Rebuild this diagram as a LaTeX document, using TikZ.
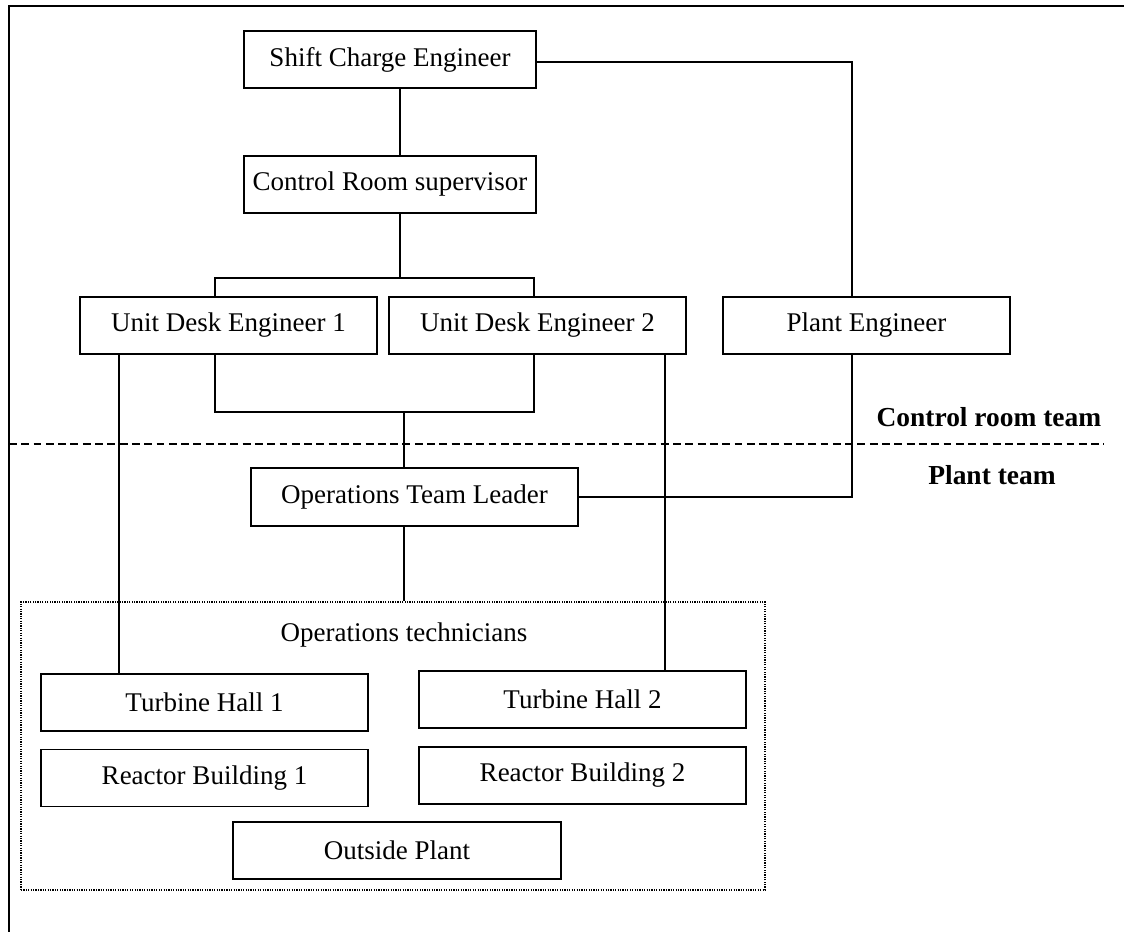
\documentclass[tikz,border=0pt]{standalone}
\usepackage{fontspec}
\setmainfont{Liberation Serif}

\begin{document}
\begin{tikzpicture}[x=0.016cm, y=-0.016cm,
    box/.style={draw, line width=0.8pt, minimum height=57*0.016cm, inner sep=2pt, font=\fontsize{12.3}{14}\selectfont},
    boxw/.style={minimum width=#1*0.016cm},
    group/.style={draw, line width=0.9pt, dash pattern=on 0.55pt off 0.55pt, inner sep=0pt},
    link/.style={line width=0.7pt},
    teamlabel/.style={font=\fontsize{12.5}{14}\selectfont\bfseries}]
    \useasboundingbox (0,0) rectangle (1124,932);

    % Page frame
    \draw[line width=0.9pt] (1124,6) -- (9,6) -- (9,932);

    % === Control room team ===
    \node[box, boxw=292] (sce) at (390,59.5) {Shift Charge Engineer};
    \node[box, boxw=292] (crs) at (390,184.5) {Control Room supervisor};
    \node[box, boxw=297] (ude1) at (228.5,325.5) {Unit Desk Engineer 1};
    \node[box, boxw=297] (ude2) at (537.5,325.5) {Unit Desk Engineer 2};
    \node[box, boxw=287] (pe) at (866.5,325.5) {Plant Engineer};

    % Team labels and divider
    \node[teamlabel, anchor=east] (crteam) at (1109,417) {Control room team};
    \node[teamlabel] (plteam) at (992,475) {Plant team};
    \draw[line width=0.7pt, dash pattern=on 3.6pt off 2pt] (9,444) -- (1104,444);

    % === Plant team ===
    \node[box, boxw=327, minimum height=58*0.016cm] (otl) at (414.5,497) {Operations Team Leader};
    \node[group, minimum width=744*0.016cm, minimum height=288*0.016cm] (techs) at (393,746) {};
    \node[font=\fontsize{12.3}{14}\selectfont] (techlabel) at (404,635) {Operations technicians};
    \node[box, boxw=327] (th1) at (204.5,702.5) {Turbine Hall 1};
    \node[box, boxw=327] (th2) at (582.5,699.5) {Turbine Hall 2};
    \node[box, boxw=327] (rb1) at (204.5,778) {Reactor Building 1};
    \node[box, boxw=327] (rb2) at (582.5,775.5) {Reactor Building 2};
    \node[box, boxw=328] (op) at (397,850.5) {Outside Plant};

    % Junction points
    \coordinate (spine) at (400,278);
    \coordinate (fork1) at (215,278);
    \coordinate (fork2) at (534,278);
    \coordinate (join1) at (215,412);
    \coordinate (join2) at (534,412);
    \coordinate (jbot) at (404,412);
    \coordinate (pelink) at (852,62);
    \coordinate (tap1) at (119,0);
    \coordinate (tap2) at (665,0);

    % Connectors
    \draw[link] (sce.south -| spine) -- (crs.north -| spine);
    \draw[link] (crs.south -| spine) -- (spine);
    \draw[link] (ude1.north -| fork1) -- (fork1) -- (fork2) -- (ude2.north -| fork2);
    \draw[link] (ude1.south -| join1) -- (join1) -- (join2) -- (ude2.south -| join2);
    \draw[link] (jbot) -- (otl.north -| jbot);
    \draw[link] (sce.east |- pelink) -- (pelink) -- (pe.north -| pelink);
    \draw[link] (pe.south -| pelink) |- (otl.east);
    \draw[link] (otl.south -| jbot) -- (techs.north -| jbot);
    \draw[link] (ude1.south -| tap1) -- (th1.north -| tap1);
    \draw[link] (ude2.south -| tap2) -- (th2.north -| tap2);
\end{tikzpicture}
\end{document}
